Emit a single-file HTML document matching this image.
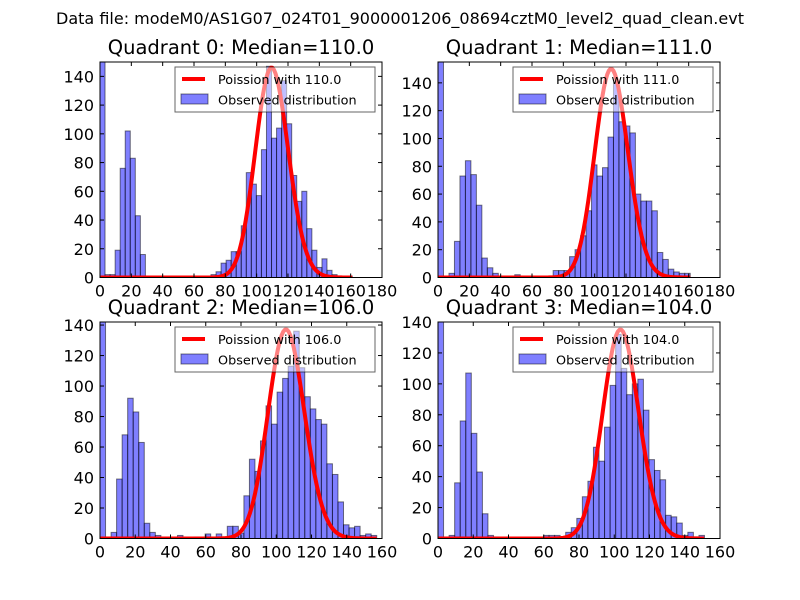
<!DOCTYPE html>
<html><head><meta charset="utf-8"><style>
html,body{margin:0;padding:0;background:#fff;}
svg{display:block;font-family:"DejaVu Sans","Liberation Sans",sans-serif;}
</style></head><body>
<svg id="fig" width="800" height="600" viewBox="0 0 800 600" xmlns="http://www.w3.org/2000/svg">
<rect width="800" height="600" fill="#fff"/>
<text x="400" y="24" text-anchor="middle" font-size="16">Data file: modeM0/AS1G07_024T01_9000001206_08694cztM0_level2_quad_clean.evt</text>
</svg>
<script>
// ---- data ----
const quadrantNames = ["Quadrant 0","Quadrant 1","Quadrant 2","Quadrant 3"];
const medians = [110.0, 111.0, 106.0, 104.0];
const binStarts = [0, 0, 0, 0];
const binWidths = [3.22, 3.5, 3.14, 3.15];
const counts0 = [155,2,2,19,76,102,83,43,16,1, 0,0,0,0,0,0,0,0,0,1, 1,0,2,4,10,12,18,18,36,73, 65,57,89,147,97,104,137,107,71,53, 60,34,19,7,13,5,2,1,0,1];
const counts1 = [160,0,3,26,73,84,74,52,14,7, 3,0,0,0,2,0,1,0,0,1, 0,5,5,5,15,20,30,48,81,73, 79,101,140,112,109,104,60,55,55,48, 18,13,6,4,3,3];
const counts2 = [145,1,4,39,68,92,83,63,10,4, 2,0,0,0,2,0,0,1,0,3, 1,3,0,8,8,3.5,28,52,44,64, 87,75,96,105,113,136,112,93,85,78, 75,49,42,24,9,7,8,2,3,2];
const counts3 = [145,0,2,36,76,107,68,43,16,2, 1,0,0,0,0,0,0,0,0,2, 2,2,0,4,7,13,27,37,59,50, 72,99,132,110,93,100,103,83,51,44, 38,15,14,10,2,4,1,2];
const poissonPeaks = [146, 150, 137, 135];
const xMaxes = [180, 180, 160, 160];
const yMaxes = [150, 155, 142, 140];
const xTicks0 = [0,20,40,60,80,100,120,140,160,180];
const xTicks1 = [0,20,40,60,80,100,120,140,160];
const yTicks = [0,20,40,60,80,100,120,140];

const allCounts = [counts0, counts1, counts2, counts3];
const allXTicks = [xTicks0, xTicks0, xTicks1, xTicks1];
const boxes = [[100,62,382,277.5],[438,62,720,277.5],[100,322,382,538.5],[438,322,720,538.5]];
const NS = "http://www.w3.org/2000/svg";
const svg = document.getElementById("fig");
function mk(tag, attrs, parent){const e=document.createElementNS(NS,tag);for(const k in attrs)e.setAttribute(k,attrs[k]);(parent||svg).appendChild(e);return e;}
const defs = mk("defs",{});
function lnFact(k){let s=0;for(let i=2;i<=k;i++)s+=Math.log(i);return s;}

for(let p=0;p<4;p++){
  const [L,T,R,B]=boxes[p];
  const xs=v=>L+(v/xMaxes[p])*(R-L);
  const ys=v=>B-(v/yMaxes[p])*(B-T);
  const g=mk("g",{});
  
  
  const cp=mk("clipPath",{id:"clip"+p},defs);
  mk("rect",{x:L,y:T,width:R-L,height:B-T},cp);
  const t=mk("text",{x:(L+R)/2,y:T-8,"text-anchor":"middle","font-size":"19.5"},g);
  t.textContent=quadrantNames[p]+": Median="+medians[p].toFixed(1);
  
  
  const plot=mk("g",{"clip-path":"url(#clip"+p+")"},g);
  const mu=medians[p], cnt=allCounts[p];
  const xEnd=binStarts[p]+cnt.length*binWidths[p];
  for(let i=0;i<cnt.length;i++){
    if(cnt[i]<=0)continue;
    const x0=xs(Math.max(0,binStarts[p]+i*binWidths[p])), x1=xs(binStarts[p]+(i+1)*binWidths[p]);
    const y0=ys(cnt[i]);
    const r=mk("rect",{x:x0,y:y0,width:x1-x0,height:B-y0,fill:"#0000ff","fill-opacity":"0.5",stroke:"#000","stroke-opacity":"0.5","stroke-width":"1"},plot);
    
    
  }
  const mode=Math.floor(mu);
  const pm=k=>Math.exp(k*Math.log(mu)-mu-lnFact(k));
  const A=poissonPeaks[p]/pm(mode);
  let pts=[];
  for(let k=0;k<=Math.floor(xEnd);k++)pts.push(xs(k).toFixed(2)+","+ys(A*pm(k)).toFixed(2));
  const line=mk("polyline",{points:pts.join(" "),fill:"none",stroke:"#ff0000","stroke-width":"4","stroke-linejoin":"round"},plot);
  
  
  const fr=mk("rect",{x:L,y:T,width:R-L,height:B-T,fill:"none",stroke:"#000","stroke-width":"1"},g);
  
  
  for(const v of allXTicks[p]){
    const x=xs(v);
    mk("line",{x1:x,y1:B,x2:x,y2:B-4,stroke:"#000"},g);
    mk("line",{x1:x,y1:T,x2:x,y2:T+4,stroke:"#000"},g);
    const lb=mk("text",{x:x,y:B+19,"text-anchor":"middle","font-size":"16"},g);
    lb.textContent=v;
    
    
  }
  for(const v of yTicks){
    const y=ys(v);
    mk("line",{x1:L,y1:y,x2:L+4,y2:y,stroke:"#000"},g);
    mk("line",{x1:R,y1:y,x2:R-4,y2:y,stroke:"#000"},g);
    const lb=mk("text",{x:L-6,y:y+6,"text-anchor":"end","font-size":"16"},g);
    lb.textContent=v;
    
    
  }
  const lg=mk("g",{},g);
  
  
  const lx=L+75, ly=T+5;
  mk("rect",{x:lx,y:ly,width:200,height:45,fill:"#fff","fill-opacity":"0.5",stroke:"#000","stroke-opacity":"0.6","stroke-width":"1"},lg);
  mk("line",{x1:lx+7,y1:ly+12,x2:lx+30,y2:ly+12,stroke:"#ff0000","stroke-width":"4"},lg);
  const t1=mk("text",{x:lx+43,y:ly+17,"font-size":"12.8"},lg);
  t1.textContent="Poission with "+medians[p].toFixed(1);
  
  
  mk("rect",{x:lx+6,y:ly+27,width:27,height:10,fill:"#0000ff","fill-opacity":"0.5",stroke:"#000","stroke-opacity":"0.5"},lg);
  const t2=mk("text",{x:lx+43,y:ly+37.5,"font-size":"12.8"},lg);
  t2.textContent="Observed distribution";
  
  
}
</script>
</body></html>
